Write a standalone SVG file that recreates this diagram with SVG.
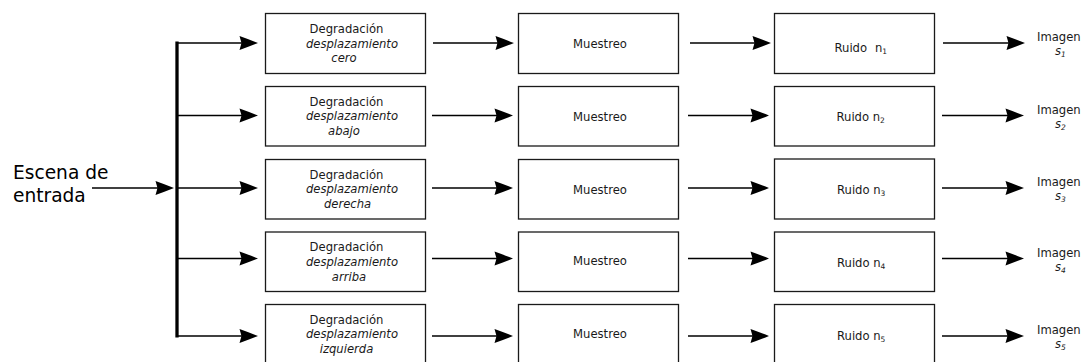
<svg xmlns="http://www.w3.org/2000/svg" width="1085" height="362" viewBox="0 0 1085 362">
<style>
.box{fill:#fff;stroke:#1a1a1a;stroke-width:1.3}
.t{font-family:"DejaVu Sans",sans-serif;font-size:11.6px;fill:#1a1a1a}
.m{text-anchor:middle}
.i{font-style:italic}
.sub{font-size:7.5px}
.big{font-family:"DejaVu Sans",sans-serif;font-size:18.6px;fill:#000}
.ln{stroke:#000;stroke-width:1.6;fill:none}
.bus{stroke:#000;stroke-width:3.3;fill:none}
</style>
<defs>
<marker id="ah" markerUnits="userSpaceOnUse" viewBox="-20 -8 21 16" markerWidth="21" markerHeight="16" refX="-12" refY="0" orient="auto">
<path d="M0,0 Q-9,-3.6 -18.5,-7 L-16.5,0 L-18.5,7 Q-9,3.6 0,0 Z" fill="#000"/>
</marker>
</defs>
<g id="connectors">
<path class="bus" d="M177,41.5 V337.5"/>
<path class="ln" d="M92,188 H162" marker-end="url(#ah)"/>
<path class="ln" d="M177,43 H246" marker-end="url(#ah)"/>
<path class="ln" d="M177,115.5 H246" marker-end="url(#ah)"/>
<path class="ln" d="M177,188 H246" marker-end="url(#ah)"/>
<path class="ln" d="M177,258.5 H246" marker-end="url(#ah)"/>
<path class="ln" d="M177,336 H246" marker-end="url(#ah)"/>
<path class="ln" d="M433,43 H502" marker-end="url(#ah)"/>
<path class="ln" d="M432,115.5 H501" marker-end="url(#ah)"/>
<path class="ln" d="M432,188 H501" marker-end="url(#ah)"/>
<path class="ln" d="M432,258.5 H501" marker-end="url(#ah)"/>
<path class="ln" d="M432,336 H501" marker-end="url(#ah)"/>
<path class="ln" d="M690,43 H759" marker-end="url(#ah)"/>
<path class="ln" d="M688,115.5 H757" marker-end="url(#ah)"/>
<path class="ln" d="M688,188 H757" marker-end="url(#ah)"/>
<path class="ln" d="M688,258.5 H757" marker-end="url(#ah)"/>
<path class="ln" d="M688,336 H757" marker-end="url(#ah)"/>
<path class="ln" d="M943,43 H1013" marker-end="url(#ah)"/>
<path class="ln" d="M942,115.5 H1012" marker-end="url(#ah)"/>
<path class="ln" d="M942,188 H1012" marker-end="url(#ah)"/>
<path class="ln" d="M942,258.5 H1012" marker-end="url(#ah)"/>
<path class="ln" d="M942,336 H1012" marker-end="url(#ah)"/>
</g>
<g id="input">
<text class="big" x="13" y="178.5">Escena de</text>
<text class="big" x="13" y="201.5">entrada</text>
</g>
<g id="deg1"><rect class="box" x="265.5" y="13.5" width="160" height="60"/>
<text class="t m" x="346.5" y="33">Degradación</text><text class="t m i" x="352" y="47.5">desplazamiento</text><text class="t m i" x="344" y="62">cero</text></g>
<g id="deg2"><rect class="box" x="265.5" y="86.5" width="160" height="59.5"/>
<text class="t m" x="346.5" y="105.7">Degradación</text><text class="t m i" x="352" y="120">desplazamiento</text><text class="t m i" x="344" y="135">abajo</text></g>
<g id="deg3"><rect class="box" x="265.5" y="159.5" width="160" height="59.5"/>
<text class="t m" x="346.5" y="178.5">Degradación</text><text class="t m i" x="352" y="193">desplazamiento</text><text class="t m i" x="347.5" y="208">derecha</text></g>
<g id="deg4"><rect class="box" x="265.5" y="232" width="160" height="59.5"/>
<text class="t m" x="346.5" y="251">Degradación</text><text class="t m i" x="352" y="265.5">desplazamiento</text><text class="t m i" x="349" y="280.5">arriba</text></g>
<g id="deg5"><rect class="box" x="265.5" y="304.5" width="160" height="62"/>
<text class="t m" x="346.5" y="324">Degradación</text><text class="t m i" x="352" y="338">desplazamiento</text><text class="t m i" x="346.5" y="352.5">izquierda</text></g>
<g id="mue1"><rect class="box" x="518.5" y="13.5" width="160" height="60"/><text class="t m" x="600" y="48">Muestreo</text></g>
<g id="mue2"><rect class="box" x="518.5" y="86.5" width="160" height="59.5"/><text class="t m" x="600" y="121">Muestreo</text></g>
<g id="mue3"><rect class="box" x="518.5" y="159.5" width="160" height="59.5"/><text class="t m" x="600" y="193.5">Muestreo</text></g>
<g id="mue4"><rect class="box" x="518.5" y="232" width="160" height="59.5"/><text class="t m" x="600" y="265">Muestreo</text></g>
<g id="mue5"><rect class="box" x="518.5" y="304.5" width="160" height="62"/><text class="t m" x="600" y="337.5">Muestreo</text></g>
<g id="rui1"><rect class="box" x="774.5" y="13.5" width="160" height="60"/><text class="t" x="834.5" y="52">Ruido<tspan x="875">n</tspan><tspan class="sub" dy="2">1</tspan></text></g>
<g id="rui2"><rect class="box" x="774.5" y="86.5" width="160" height="59.5"/><text class="t" x="836.5" y="121">Ruido n<tspan class="sub" dy="2">2</tspan></text></g>
<g id="rui3"><rect class="box" x="774.5" y="159" width="160" height="60"/><text class="t" x="837" y="193.5">Ruido n<tspan class="sub" dy="2">3</tspan></text></g>
<g id="rui4"><rect class="box" x="774.5" y="232" width="160" height="59.5"/><text class="t" x="837" y="266.5">Ruido n<tspan class="sub" dy="2">4</tspan></text></g>
<g id="rui5"><rect class="box" x="774.5" y="304.5" width="160" height="62"/><text class="t" x="837" y="339.5">Ruido n<tspan class="sub" dy="2">5</tspan></text></g>
<g id="out1"><text class="t" x="1037" y="41">Imagen</text><text class="t i" x="1055" y="55">s<tspan class="sub" dy="2">1</tspan></text></g>
<g id="out2"><text class="t" x="1037" y="113.5">Imagen</text><text class="t i" x="1055" y="127.5">s<tspan class="sub" dy="2">2</tspan></text></g>
<g id="out3"><text class="t" x="1037" y="186">Imagen</text><text class="t i" x="1055" y="200">s<tspan class="sub" dy="2">3</tspan></text></g>
<g id="out4"><text class="t" x="1037" y="256.5">Imagen</text><text class="t i" x="1055" y="270.5">s<tspan class="sub" dy="2">4</tspan></text></g>
<g id="out5"><text class="t" x="1037" y="334">Imagen</text><text class="t i" x="1055" y="348">s<tspan class="sub" dy="2">5</tspan></text></g>
</svg>
